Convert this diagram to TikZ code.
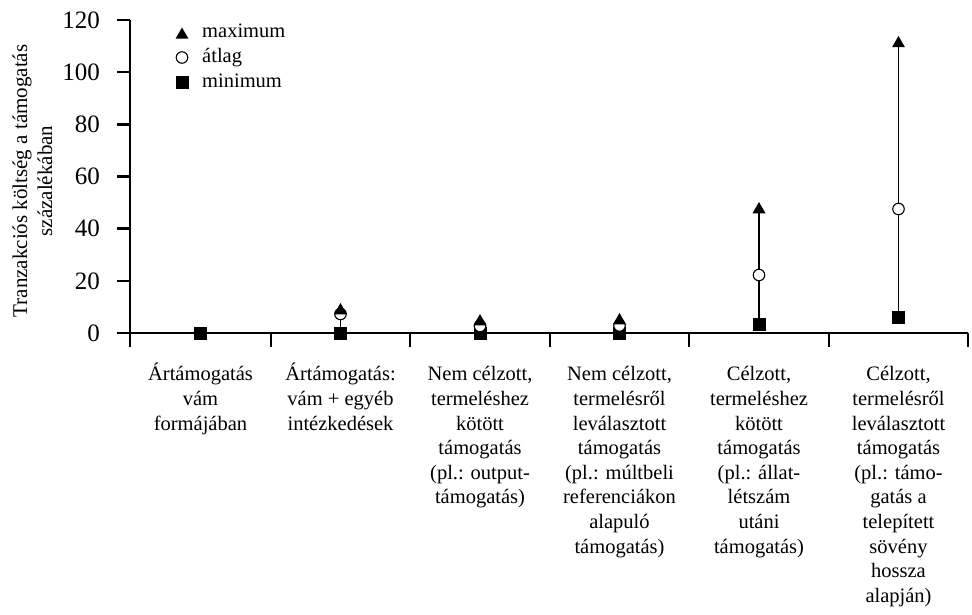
\documentclass[tikz,border=0pt]{standalone}
\usepackage{fontspec}
\setmainfont{Liberation Serif}
\usetikzlibrary{shapes.geometric,backgrounds}
\begin{document}
\begin{tikzpicture}[x=1pt,y=-1pt,
  axis/.style={line width=2.5pt},
  ticklab/.style={anchor=east, inner sep=0pt, font=\fontsize{25}{30}\selectfont},
  catlab/.style={anchor=north, inner sep=0pt, align=center, font=\fontsize{20.5}{24.65}\selectfont},
  leglab/.style={anchor=base west, inner sep=0pt, font=\fontsize{20.5}{24.6}\selectfont},
  maxmark/.style={regular polygon, regular polygon sides=3, minimum size=15pt, inner sep=0pt, fill=black},
  avgmark/.style={circle, minimum size=11.5pt, inner sep=0pt, draw=black, line width=1.1pt, fill=white},
  minmark/.style={rectangle, minimum size=13pt, inner sep=0pt, fill=black},
  whisker/.style={line width=1.4pt}]
\useasboundingbox (0,0) rectangle (972,615);

% axes
\draw[axis] (130,20) -- (130,333);
\draw[axis] (117,333) -- (968,333);
\foreach \v/\yy in {20/281,40/228.7,60/176.5,80/124.3,100/72.2,120/20}{
  \draw[axis] (117,\yy) -- (130,\yy);
}
\foreach \xx in {130,271,410,550,689,829,968}{
  \draw[axis] (\xx,333) -- (\xx,347);
}
% tick labels
\node[ticklab] (t0) at (100,333) {0};
\node[ticklab] (t20) at (100,281) {20};
\node[ticklab] (t40) at (100,228.7) {40};
\node[ticklab] (t60) at (100,176.5) {60};
\node[ticklab] (t80) at (100,124.3) {80};
\node[ticklab] (t100) at (100,72.2) {100};
\node[ticklab] (t120) at (100,20) {120};

% y label
\node[rotate=90, anchor=north, inner sep=0pt, align=center, font=\fontsize{21}{25}\selectfont] (ylab) at (8,181)
  {\rule{0pt}{19pt}Tranzakciós költség a támogatás\\százalékában};

% legend
\node[maxmark] (lmax) at (182,35) {};
\node[avgmark] (lavg) at (182,57.5) {};
\node[minmark] (lmin) at (182,82.5) {};
\node[leglab] (lmaxt) at (202,37.5) {maximum};
\node[leglab] (lavgt) at (202,63) {átlag};
\node[leglab] (lmint) at (202,88) {minimum};

% data
\node[minmark] (min1) at (200.5,333) {};

\node[minmark] (min2) at (340.5,333) {};
\node[avgmark] (avg2) at (340.5,314) {};
\node[maxmark] (max2) at (340.5,310.5) {};

\node[minmark] (min3) at (480,333) {};
\node[avgmark] (avg3) at (480,326) {};
\node[maxmark] (max3) at (480,321.5) {};

\node[minmark] (min4) at (619.5,333) {};
\node[avgmark] (avg4) at (619.5,325.5) {};
\node[maxmark] (max4) at (619.5,320.5) {};

\node[minmark] (min5) at (759,324) {};
\node[avgmark] (avg5) at (759,275) {};
\node[maxmark] (max5) at (759,209.5) {};

\node[minmark] (min6) at (898.5,317.5) {};
\node[avgmark] (avg6) at (898.5,209) {};
\node[maxmark] (max6) at (898.5,43.5) {};

\begin{pgfonlayer}{background}
\draw[whisker] (max2.center) -- (min2.center);
\draw[whisker] (max5.center) -- (min5.center);
\draw[whisker] (max6.center) -- (min6.center);
\end{pgfonlayer}

% category labels
\node[catlab] (c1) at (200.5,361.5) {\rule{0pt}{19pt}Ártámogatás\\vám\\formájában};
\node[catlab] (c2) at (340.5,361.5) {\rule{0pt}{19pt}Ártámogatás:\\vám + egyéb\\intézkedések};
\node[catlab] (c3) at (480,361.5) {\rule{0pt}{19pt}Nem célzott,\\termeléshez\\kötött\\támogatás\\(pl.: output-\\támogatás)};
\node[catlab] (c4) at (619.5,361.5) {\rule{0pt}{19pt}Nem célzott,\\termelésről\\leválasztott\\támogatás\\(pl.: múltbeli\\referenciákon\\alapuló\\támogatás)};
\node[catlab] (c5) at (759,361.5) {\rule{0pt}{19pt}Célzott,\\termeléshez\\kötött\\támogatás\\(pl.: állat-\\létszám\\utáni\\támogatás)};
\node[catlab] (c6) at (898.5,361.5) {\rule{0pt}{19pt}Célzott,\\termelésről\\leválasztott\\támogatás\\(pl.: támo-\\gatás a\\telepített\\sövény\\hossza\\alapján)};
\end{tikzpicture}
\end{document}
